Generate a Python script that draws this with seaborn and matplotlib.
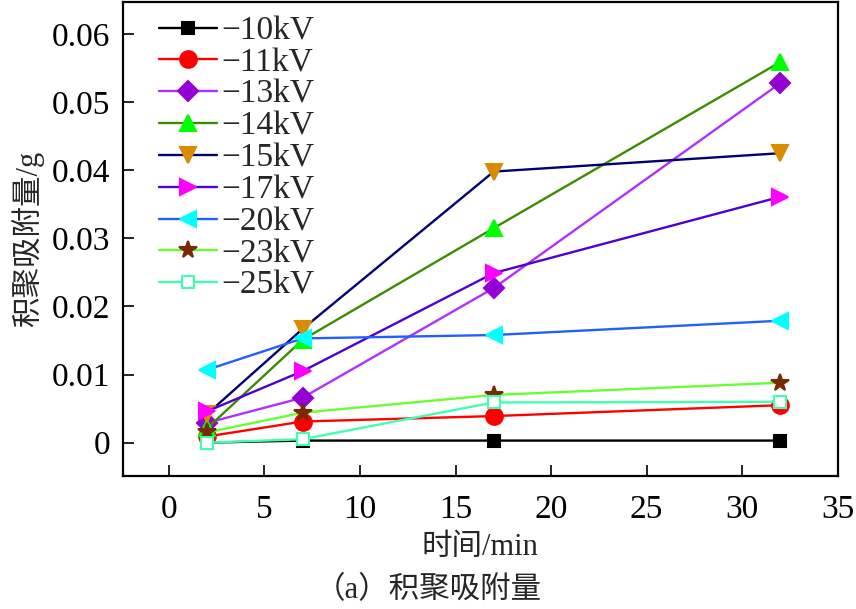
import matplotlib
matplotlib.use("Agg")
import matplotlib.pyplot as plt
from matplotlib.ticker import FuncFormatter, MultipleLocator
import pandas
import seaborn

# time points (min)
times = [2, 7, 17, 32]

labels = ["−10kV", "−11kV", "−13kV", "−14kV", "−15kV", "−17kV", "−20kV", "−23kV", "−25kV"]

# adsorbed mass (g) per voltage
kv10 = [0.0000, 0.0003, 0.0003, 0.0003]
kv11 = [0.0009, 0.0031, 0.0039, 0.0055]
kv13 = [0.0029, 0.0066, 0.0227, 0.0528]
kv14 = [0.0021, 0.0151, 0.0315, 0.0559]
kv15 = [0.0042, 0.0167, 0.0398, 0.0425]
kv17 = [0.0046, 0.0105, 0.0249, 0.0361]
kv20 = [0.0107, 0.0153, 0.0158, 0.0179]
kv23 = [0.0015, 0.0044, 0.0070, 0.0088]
kv25 = [0.0000, 0.0005, 0.0059, 0.0060]

series = [kv10, kv11, kv13, kv14, kv15, kv17, kv20, kv23, kv25]

line_colors = ["#000000", "#ff0000", "#b030ff", "#3c8c00", "#000070",
               "#5000d0", "#2060ff", "#66ff33", "#40ffb0"]
marker_face = ["#000000", "#ff0000", "#9400d3", "#00ff00", "#d98c00",
               "#ff00ff", "#00ffff", "#7a2a00", "white"]
marker_edge = ["#000000", "#ff0000", "#9400d3", "#00ff00", "#d98c00",
               "#ff00ff", "#00ffff", "#7a2a00", "#40ffb0"]
markers = ["s", "o", "D", "^", "v", ">", "<", "*", "s"]
msizes = [9, 12, 10, 12, 12, 12, 12, 13, 9]

seaborn.set_style("ticks")
plt.rcParams["font.family"] = ["Liberation Serif", "Noto Sans CJK SC"]
plt.rcParams["axes.unicode_minus"] = True

fig = plt.figure(figsize=(8.56, 6.09), dpi=100)
ax = fig.add_axes([0.1437, 0.2184, 0.835, 0.7783])

for lab, vals, lc, mf, me, mk, ms in zip(labels, series, line_colors, marker_face,
                                         marker_edge, markers, msizes):
    df = pandas.DataFrame({"t": times, "m": vals})
    seaborn.lineplot(data=df, x="t", y="m", ax=ax, color=lc, linewidth=1.7,
                     marker=mk, markersize=ms, markerfacecolor=mf,
                     markeredgecolor=me, markeredgewidth=1.5, label=lab)

ax.set_xlim(-2.4, 35)
ax.set_ylim(-0.0049, 0.0647)
ax.xaxis.set_major_locator(MultipleLocator(5))
ax.yaxis.set_major_locator(MultipleLocator(0.01))
ax.yaxis.set_major_formatter(FuncFormatter(lambda v, p: "0" if abs(v) < 1e-9 else f"{v:.2f}"))

for s in ax.spines.values():
    s.set_visible(True)
    s.set_linewidth(1.6)
    s.set_color("black")
ax.tick_params(direction="in", length=8, width=1.2, labelsize=24,
               top=False, right=False, colors="black")
ax.tick_params(axis="x", pad=13)
ax.tick_params(axis="y", pad=9)

ax.set_xlabel("时间/min", fontsize=22, labelpad=6)
ax.set_ylabel("积聚吸附量/g", fontsize=22, labelpad=6)

ax.legend(loc="upper left", bbox_to_anchor=(0.045, 0.978), frameon=False, fontsize=24,
          labelspacing=0.04, handlelength=1.75, handletextpad=0.15,
          borderaxespad=0.0, borderpad=0.1)

fig.text(0.5, 0.03, "（a）积聚吸附量", ha="center", va="center", fontsize=22)

fig.savefig("out.png", dpi=100)
